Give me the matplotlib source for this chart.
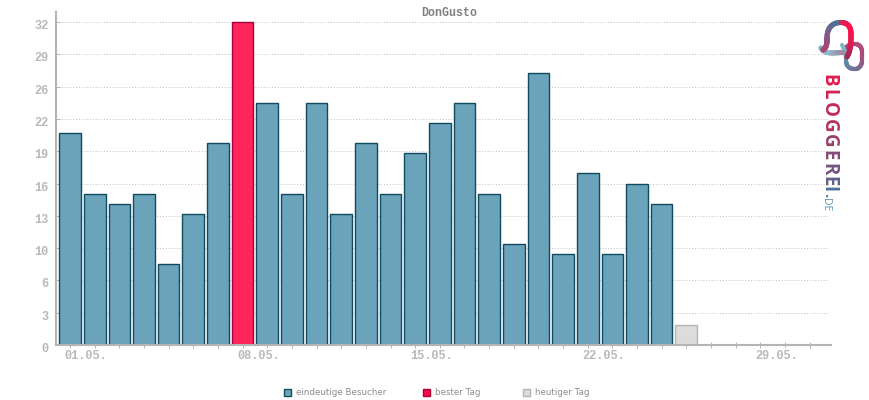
"""DonGusto visitor bars with the Bloggerei logo."""

import matplotlib
matplotlib.use('Agg')
import matplotlib.pyplot as plt
from matplotlib.collections import LineCollection
from matplotlib.patches import Rectangle
from matplotlib.transforms import ScaledTranslation
import numpy as np

# Data
days = list(range(1, 27))
visitors = [21, 15, 14, 15, 8, 13, 20, 32, 24, 15, 24, 13, 20, 15, 19, 22, 24, 15,
            10, 27, 9, 17, 9, 16, 14, 2]
best_day = 8
today = 26
y_ticks = [0, 3.2, 6.4, 9.6, 12.8, 16, 19.2, 22.4, 25.6, 28.8, 32]
y_labels = ['0', '3', '6', '10', '13', '16', '19', '22', '26', '29', '32']
x_ticks = list(range(1, 32))
x_labels = {1: '01.05.', 8: '08.05.', 15: '15.05.', 22: '22.05.', 29: '29.05.'}
legend_names = ['eindeutige Besucher', 'bester Tag', 'heutiger Tag']

BLUE, BLUE_EDGE = '#6ba3bb', '#0f4a5e'
RED, RED_EDGE = '#ff2459', '#a5003a'
GREY, GREY_EDGE = '#dcdcdc', '#b4b4b4'
AXIS = '#b4b4b4'
TEXT = '#b9b9b9'
PIXEL_FONT = 'Liberation Mono'

W, H = 870, 400
fig = plt.figure(figsize=(W / 100, H / 100), dpi=100, facecolor='white')
ax = fig.add_axes([56 / W, 1 - 345 / H, 775 / W, 333 / H])
ax.set_xlim(0.43, 31.87)
ax.set_ylim(0, 33.0)

for d, v in zip(days, visitors):
    if d == best_day:
        fc, ec = RED, RED_EDGE
    elif d == today:
        fc, ec = GREY, GREY_EDGE
    else:
        fc, ec = BLUE, BLUE_EDGE
    ax.bar(d, v, width=0.88, facecolor=fc, edgecolor=ec, linewidth=1.0, zorder=3)

# Grid stops just short of the right end
ax.hlines(y_ticks[1:], 0.43, 31.75, colors='#c4c4c4', linewidth=0.72,
          linestyles=(0, (1, 1.8)), zorder=1)

for s in ['top', 'right']:
    ax.spines[s].set_visible(False)
for s in ['left', 'bottom']:
    ax.spines[s].set_color(AXIS)
    ax.spines[s].set_linewidth(1.5)
    ax.spines[s].set_zorder(4)

ax.set_yticks(y_ticks)
ax.set_yticklabels(y_labels, family=PIXEL_FONT, fontsize=8.6, fontweight='bold', color=TEXT)
ax.tick_params(axis='y', direction='in', length=3, width=0.7, color=AXIS, pad=5.5)
# The y labels sit a little below their gridline
down = ScaledTranslation(0, -2.5 / 100, fig.dpi_scale_trans)
for lab in ax.get_yticklabels():
    lab.set_transform(lab.get_transform() + down)

ax.set_xticks(x_ticks)
ax.set_xticklabels([])
ax.tick_params(axis='x', direction='inout', length=5, width=0.7, color=AXIS)

# Date labels start at the tick, they are not centred on it
for d, name in x_labels.items():
    ax.annotate(name, (d, 0), xycoords=('data', 'axes fraction'), xytext=(-3.8, -8.2),
                textcoords='offset points', family=PIXEL_FONT, fontsize=8.6, fontweight='bold',
                color=TEXT, ha='left', va='center', annotation_clip=False)

fig.text(449.5 / W, 1 - 12.5 / H, 'DonGusto', family=PIXEL_FONT, fontsize=8.4,
         fontweight='bold', color='#808080', ha='center', va='center')

# Overlay in pixel coordinates for legend and logo
ov = fig.add_axes([0, 0, 1, 1], facecolor='none')
ov.set_xlim(0, W)
ov.set_ylim(H, 0)
ov.axis('off')

swatches = [(284, BLUE, BLUE_EDGE), (423, '#ff0a47', RED_EDGE), (523, GREY, GREY_EDGE)]
for (px, fc, ec), name in zip(swatches, legend_names):
    ov.add_patch(Rectangle((px + 0.5, 388.5), 7, 7, facecolor=fc, edgecolor=ec, linewidth=1.0))
    ov.text(px + 12, 392.5, name, family='DejaVu Sans', fontsize=6.35, color='#8c8c8c',
            va='center', ha='left')


def bezier(p0, p1, p2, p3, n=24):
    t = np.linspace(0, 1, n)[:, None]
    p0, p1, p2, p3 = map(np.array, (p0, p1, p2, p3))
    return (1 - t) ** 3 * p0 + 3 * (1 - t) ** 2 * t * p1 + 3 * (1 - t) * t ** 2 * p2 + t ** 3 * p3


def gradient_line(pts, stops, lw=3.7):
    # stops are colours spread evenly along the stroke
    rgb = np.array([matplotlib.colors.to_rgb(c) for c in stops])
    segs = np.stack([pts[:-1], pts[1:]], axis=1)
    t = np.linspace(0, 1, len(segs))
    cols = np.column_stack([np.interp(t, np.linspace(0, 1, len(rgb)), rgb[:, i]) for i in range(3)])
    ov.add_collection(LineCollection(segs, colors=cols, linewidth=lw, capstyle='round'))


# Linked pill first, the bubble's right stroke runs over it
pill = np.vstack([
    bezier((846, 48), (848, 45), (851, 44), (855, 44)),
    bezier((855, 44), (859, 44), (862, 47), (862, 52)),
    bezier((862, 52), (862, 55), (862, 59), (862, 62)),
    bezier((862, 62), (861, 67), (858, 69), (855, 69)),
    bezier((855, 69), (849, 69), (846, 66), (846, 60)),
])
gradient_line(pill, ['#a84a78', '#b04a78', '#b04a78', '#7a6a90', '#5f89a6'], lw=3.0)
gradient_line(bezier((846, 60), (846, 56), (846, 52), (842, 45), n=12), ['#5f89a6', '#7fb8c8'], lw=3.0)

# Speech bubble: tail and underside, left stroke, top, right stroke
gradient_line(bezier((821, 48), (826, 55), (834, 52.5), (843, 52.5)), ['#6fb0c4', '#8fbdcc', '#a08aa8'])
left = np.vstack([
    bezier((823, 50), (827, 47), (827, 43), (827, 38)),
    bezier((827, 38), (827, 28), (832, 22.5), (841, 22.5)),
])
gradient_line(left, ['#b8406c', '#a04a78', '#7a5f8c', '#45789a'])
right = np.vstack([
    bezier((841, 22.5), (848, 22.5), (851, 27), (851, 34)),
    bezier((851, 34), (851, 42), (851, 50), (847, 57)),
])
gradient_line(right, ['#c0305c', '#ff1050', '#ff1050', '#e01c50', '#a8285a'])

# Wordmark, letter by letter going down
word = 'BLOGGEREI'
word_y = [80.5, 94.5, 109.5, 125.5, 141, 155.5, 169, 181, 189.5]
word_c = ['#e01c50', '#d42355', '#c42a5d', '#b03462', '#9a3f6b', '#864a75', '#735580', '#61608a', '#4f6f96']
for ch, yy, c in zip(word, word_y, word_c):
    ov.text(828.5, yy, ch, family='Open Sans', fontsize=13.5, fontweight='bold', color=c,
            rotation=-90, ha='center', va='center')
ov.text(828.5, 195, '.', family='Open Sans', fontsize=11, fontweight='bold', color='#4f7c9e',
        rotation=-90, ha='center', va='center')
ov.text(825.5, 204.5, 'DE', family='Open Sans', fontsize=7.5, color='#5b95b5', rotation=-90,
        ha='center', va='center')

fig.savefig('out.png', dpi=100, facecolor='white')
